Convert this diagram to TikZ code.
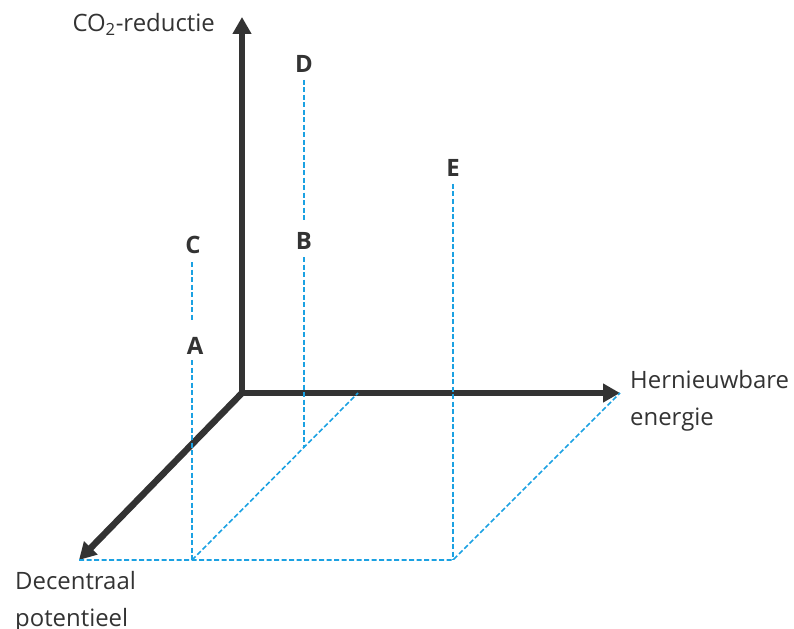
\documentclass[tikz,border=0pt]{standalone}
\usepackage{fontspec}
\setmainfont{Open Sans}
\usetikzlibrary{arrows.meta}
\definecolor{axisgray}{HTML}{333333}
\definecolor{guideblue}{HTML}{1BA1E2}
\tikzset{
  axis/.style={line width=6.5bp,axisgray,line join=miter},
  guide/.style={guideblue,line width=1.6bp,dash pattern=on 5bp off 2.5bp},
  axislabel/.style={font=\fontsize{24}{36.5}\selectfont,text=axisgray,align=left,inner sep=0pt},
  pointlabel/.style={font=\fontsize{24}{28}\selectfont\bfseries,text=axisgray,inner sep=0pt}
}
\begin{document}
\begin{tikzpicture}[x=1bp,y=-1bp]
  \useasboundingbox (0,0) rectangle (794,629);
  % axes
  \coordinate (O) at (242,393);
  \coordinate (ytip) at (242,17);
  \coordinate (xtip) at (620,393);
  \coordinate (ztip) at (79,560);
  \draw[axis,{Triangle[length=17bp,width=18bp]}-{Triangle[length=17bp,width=18bp]}] (ytip) -- (O) -- (xtip);
  \draw[axis,line cap=round,-{Triangle[length=17bp,width=18bp]}] (O) -- (ztip);
  \node[axislabel,anchor=base east] (ylab) at (215,32) {CO\textsubscript{2}-reductie};
  \node[axislabel,anchor=base west] (xlab) at (630,425) {Hernieuwbare\\energie};
  \node[axislabel,anchor=base west] (zlab) at (15,626) {Decentraal\\potentieel};
  % points
  \node[pointlabel] (D) at (304,64) {D};
  \node[pointlabel] (B) at (304,241) {B};
  \node[pointlabel] (C) at (193,245) {C};
  \node[pointlabel] (A) at (195,346) {A};
  \node[pointlabel] (E) at (453,168) {E};
  % floor of the projection
  \coordinate (fa) at (192,560);
  \coordinate (fe) at (453,560);
  \coordinate (fb) at (304,448);
  \coordinate (fx) at (358,393);
  \draw[guide] (ztip) -- (fe) -- (xtip);
  \draw[guide] (fa) -- (fx);
  % drop lines
  \draw[guide] (192,360) -- (fa);
  \draw[guide] (192,262) -- (192,322);
  \draw[guide] (304,257) -- (fb);
  \draw[guide] (304,80) -- (304,222);
  \draw[guide] (453,184) -- (fe);
\end{tikzpicture}
\end{document}
